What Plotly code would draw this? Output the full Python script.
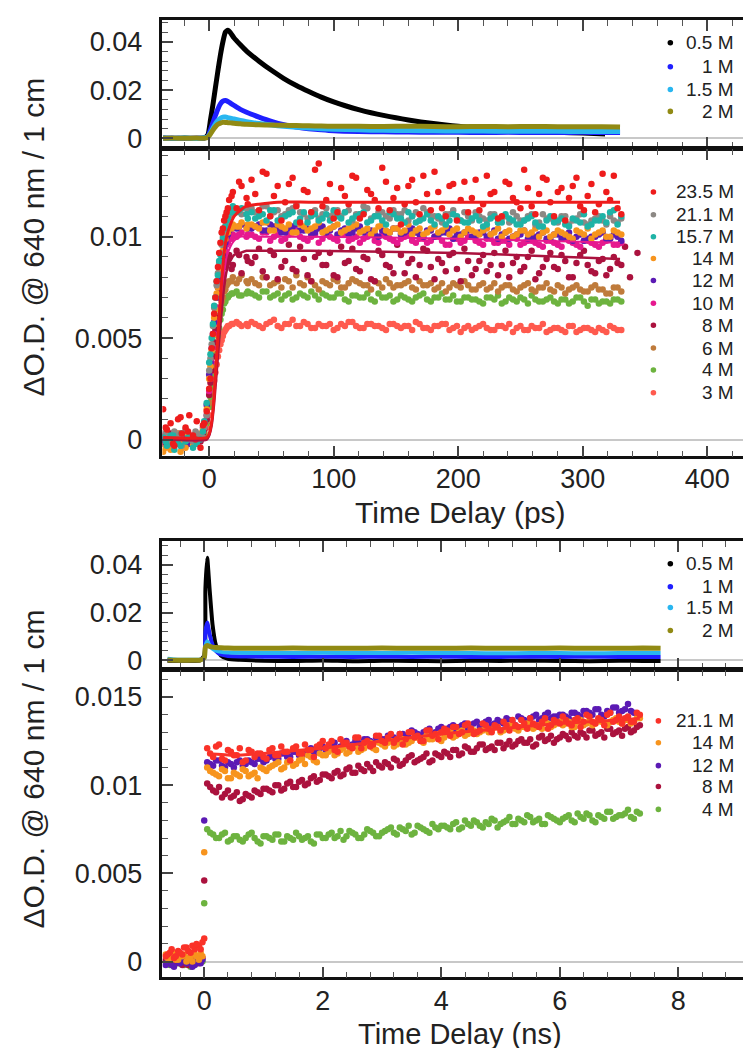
import plotly.graph_objects as go

W, H = 751, 1048
SC = 1e-4  # all stored values are ΔO.D. x 10^4
FONT = "Liberation Sans, Arial, Helvetica, sans-serif"

# ------------------------------------------------------------------
# Panel A : picosecond traces, low concentrations
# ------------------------------------------------------------------
TA0 = [-37, -30, -20, -10, -4, -1, 1, 3, 5, 7, 9, 11, 13, 15, 17, 20, 25, 30,
       40, 50, 60, 70, 80, 90, 100, 110, 120, 130, 140, 150, 160, 170, 180, 190, 200,
       220, 240, 260, 280, 300, 318]
A_05 = [1, -1, 1, 0, 2, 15, 75, 140, 210, 280, 345, 400, 440, 448, 438, 416, 388, 362,
        320, 282, 248, 219, 194, 171, 151, 134, 119, 106, 95, 85, 76, 68, 61, 55, 50,
        41, 34, 29, 25, 22, 18]
TA = [-37, -30, -20, -10, -4, -1, 1, 3, 5, 7, 9, 11, 13, 15, 17, 20, 25, 30,
      40, 50, 60, 70, 80, 90, 100, 120, 140, 160, 180, 200, 220, 240, 260, 280, 300, 315, 330]
A_1 = [0, 1, -1, 0, 1, 8, 35, 65, 95, 122, 143, 154, 157, 153, 146, 136, 120, 108,
       88, 70, 56, 47, 40, 35, 31, 28, 27, 26, 25, 25, 24, 25, 24, 24, 25, 24, 24]
A_15 = [1, 0, 1, -1, 2, 6, 22, 42, 60, 74, 83, 88, 88, 86, 83, 80, 74, 69,
        61, 55, 50, 46, 43, 40, 38, 35, 33, 32, 31, 30, 30, 29, 29, 29, 28, 28, 28]
A_2 = [0, 1, 0, 1, 0, 5, 18, 34, 48, 58, 63, 66, 66, 65, 64, 62, 60, 58,
       56, 55, 54, 53, 52, 51, 50, 50, 49, 50, 49, 48, 49, 48, 49, 48, 48, 48, 47]

# ------------------------------------------------------------------
# Panel B : picosecond traces, high concentrations (two interleaved samplings)
# ------------------------------------------------------------------
TB = [-37, -34, -31, -28, -25, -22, -19, -16, -13, -10, -7, -4, -2,
      0, 2, 4, 6, 8, 10, 12, 14, 16, 19, 22, 26, 30,
      34, 40, 46, 52, 58, 64, 70, 76, 82, 88,
      94, 100, 106, 112, 118, 124, 130, 136, 142, 148,
      154, 160, 166, 172, 178, 184, 190, 196, 202, 208,
      214, 220, 226, 232, 238, 244, 250, 256, 262, 268,
      274, 280, 286, 292, 298, 304, 310, 316, 322, 328]
TB2 = [-35, -29, -23, -17, -11, -5,
       1, 3, 5, 7, 9, 11, 13, 15, 18, 24, 31,
       37, 43, 49, 55, 61, 67, 73, 79, 85, 91,
       97, 103, 109, 115, 121, 127, 133, 139, 145, 151,
       157, 163, 169, 175, 181, 187, 193, 199, 205, 211,
       217, 223, 229, 235, 241, 247, 253, 259, 265, 271,
       277, 283, 289, 295, 301, 307, 313, 319, 325, 331]

B_235 = [15, 5, 8, -3, 10, 3, 6, 12, 2, 9, -4, 8, 14,
         25, 45, 62, 78, 92, 102, 108, 112, 118, 122, 114, 125, 119,
         128, 113, 131, 120, 108, 126, 115, 123, 112, 136,
         118, 109, 124, 116, 129, 111, 121, 114, 127, 119,
         106, 125, 117, 130, 113, 122, 110, 126, 118, 112,
         128, 116, 121, 109, 127, 119, 114, 124, 111, 129,
         117, 122, 108, 125, 115, 120, 112, 131, 118, 114]
B2_235 = [6, -2, 11, 4, 0, 7,
          30, 52, 70, 85, 97, 104, 110, 114, 120, 127, 116,
          121, 132, 110, 125, 117, 129, 107, 122, 133, 115,
          126, 112, 120, 130, 109, 123, 118, 134, 113, 124,
          116, 128, 111, 121, 132, 114, 125, 108, 127, 119,
          113, 130, 122, 110, 126, 117, 133, 115, 121, 128,
          110, 124, 119, 129, 113, 126, 116, 122, 130, 111]
B_211 = [3, 1, -2, 4, 2, -3, 5, 1, -1, 3, 2, 6, 12,
         34, 47, 65, 76, 87, 96, 103, 107, 110, 112, 113, 111, 114,
         114, 111, 115, 112, 110, 113, 116, 111, 112, 109,
         114, 112, 110, 113, 111, 115, 109, 112, 110, 113,
         111, 108, 112, 114, 110, 109, 111, 113, 108, 110,
         112, 109, 111, 107, 110, 112, 108, 110, 106, 111,
         109, 107, 110, 108, 111, 106, 109, 108, 110, 107]
B2_211 = [2, -1, 3, 0, 4, 1,
          40, 56, 70, 82, 92, 100, 105, 109, 111, 113, 112,
          112, 115, 110, 113, 111, 114, 112, 109, 113, 111,
          110, 113, 112, 108, 111, 114, 110, 112, 109, 111,
          113, 110, 108, 112, 110, 107, 111, 109, 112, 108,
          110, 108, 111, 109, 107, 110, 108, 111, 107, 109,
          108, 110, 106, 109, 107, 108, 110, 106, 108, 109]
B_157 = [1, -3, 2, -5, -2, 3, -1, 1, -4, -2, 0, 9, 18,
         38, 50, 66, 78, 88, 97, 104, 108, 112, 115, 112, 114, 111,
         112, 110, 108, 113, 109, 111, 107, 112, 110, 108,
         111, 113, 109, 107, 110, 112, 108, 110, 106, 111,
         109, 112, 107, 109, 108, 110, 106, 111, 108, 107,
         110, 105, 109, 107, 111, 108, 106, 109, 107, 105,
         110, 108, 106, 109, 107, 105, 108, 110, 112, 106]
B2_157 = [-1, 2, -3, 1, 0, 4,
          42, 57, 70, 81, 91, 99, 105, 109, 112, 113, 109,
          109, 111, 113, 108, 110, 112, 109, 107, 111, 109,
          108, 110, 112, 109, 111, 107, 110, 108, 112, 109,
          107, 110, 108, 111, 106, 109, 108, 110, 107, 109,
          108, 106, 110, 107, 109, 106, 108, 110, 105, 108,
          107, 109, 105, 108, 111, 106, 108, 107, 113, 110]
B_14 = [-6, 2, -5, 1, 3, -1, -4, 2, -3, 1, 3, 7, 15,
        30, 44, 60, 72, 83, 91, 98, 102, 104, 106, 105, 107, 104,
        106, 104, 107, 103, 105, 106, 102, 105, 104, 107,
        103, 105, 102, 104, 106, 103, 101, 105, 103, 104,
        102, 106, 103, 101, 104, 102, 105, 103, 100, 104,
        102, 103, 101, 104, 102, 100, 103, 101, 104, 102,
        100, 103, 101, 99, 102, 104, 101, 103, 100, 102]
B2_14 = [-4, 1, -6, 2, -2, 5,
         36, 51, 64, 75, 85, 93, 99, 102, 104, 105, 106,
         105, 107, 103, 106, 104, 102, 106, 103, 105, 102,
         104, 106, 103, 105, 102, 104, 103, 106, 102, 104,
         103, 101, 104, 102, 105, 103, 101, 104, 102, 103,
         101, 104, 102, 100, 103, 101, 103, 102, 100, 103,
         101, 102, 100, 103, 101, 99, 102, 100, 103, 101]
B_12 = [0, -2, 1, 2, -1, -4, 3, -2, 1, 0, 2, 8, 17,
        32, 45, 58, 70, 80, 88, 95, 100, 103, 105, 104, 106, 105,
        104, 106, 103, 105, 102, 104, 106, 103, 101, 104,
        102, 105, 103, 101, 104, 102, 103, 100, 102, 104,
        101, 103, 102, 100, 103, 101, 102, 99, 101, 103,
        100, 102, 101, 99, 102, 100, 101, 99, 100, 102,
        99, 101, 100, 98, 101, 99, 100, 102, 99, 100]
B2_12 = [1, -3, 0, 2, -1, 6,
         38, 52, 64, 75, 84, 91, 97, 101, 104, 105, 104,
         105, 103, 106, 104, 102, 105, 103, 104, 102, 105,
         103, 101, 104, 102, 105, 103, 101, 103, 102, 104,
         102, 104, 101, 103, 100, 102, 104, 101, 102, 100,
         102, 100, 103, 101, 99, 101, 103, 100, 101, 99,
         101, 99, 102, 100, 98, 100, 101, 99, 101, 98]
B_10 = [2, 0, -1, 1, 3, -2, 1, 0, 2, -1, 1, 6, 12,
        24, 38, 52, 65, 76, 85, 92, 96, 99, 101, 100, 102, 100,
        101, 99, 102, 100, 98, 101, 103, 99, 100, 97,
        101, 99, 102, 98, 100, 99, 101, 97, 100, 98,
        99, 101, 97, 99, 98, 100, 96, 99, 97, 100,
        98, 96, 99, 97, 98, 100, 96, 98, 97, 95,
        98, 96, 99, 97, 95, 98, 96, 97, 99, 96]
B2_10 = [0, 2, -1, 1, -2, 4,
         30, 45, 58, 70, 80, 88, 93, 97, 99, 101, 101,
         100, 102, 98, 101, 99, 102, 100, 98, 101, 99,
         100, 98, 101, 99, 97, 100, 98, 101, 99, 97,
         100, 98, 99, 97, 100, 98, 96, 99, 98, 100,
         97, 99, 97, 98, 96, 99, 97, 98, 96, 98,
         97, 95, 98, 96, 98, 97, 95, 98, 96, 97]
B_8 = [-2, 1, 3, -1, 0, 2, -3, 1, 0, 2, -1, 5, 10,
       22, 34, 48, 60, 70, 78, 85, 88, 91, 86, 93, 82, 90,
       87, 94, 80, 91, 85, 96, 83, 89, 78, 92,
       86, 81, 95, 88, 84, 90, 79, 93, 86, 82,
       91, 87, 80, 94, 85, 89, 83, 92, 78, 88,
       84, 91, 86, 81, 93, 87, 83, 90, 79, 85,
       92, 84, 88, 80, 91, 86, 82, 89, 84, 87]
B2_8 = [2, -1, 1, 3, -2, 3,
        28, 41, 54, 65, 74, 81, 86, 89, 84, 91, 88,
        90, 83, 93, 79, 88, 84, 95, 81, 90, 86,
        92, 80, 87, 94, 83, 89, 78, 91, 85, 96,
        82, 89, 86, 93, 79, 87, 91, 84, 94, 81,
        88, 83, 92, 86, 80, 90, 85, 93, 82, 89,
        85, 91, 80, 87, 93, 83, 88, 81, 90, 86]
T8_EXTRA = [334, 338, 344]
B_8_EXTRA = [95, 80, 92]
B_6 = [1, -1, 2, 0, -2, 1, 3, -1, 0, 2, 1, 4, 9,
       18, 29, 41, 52, 61, 68, 73, 76, 78, 80, 77, 81, 78,
       79, 76, 80, 77, 75, 78, 81, 76, 78, 74,
       77, 79, 75, 77, 78, 76, 74, 77, 79, 75,
       76, 78, 74, 76, 77, 75, 73, 77, 75, 76,
       74, 77, 75, 73, 76, 74, 75, 77, 73, 75,
       74, 76, 72, 75, 74, 73, 76, 74, 72, 75]
B2_6 = [0, 2, -1, 1, 0, 3,
        23, 35, 47, 57, 64, 70, 74, 77, 78, 79, 77,
        77, 80, 76, 78, 79, 75, 77, 80, 76, 78,
        76, 78, 75, 79, 77, 76, 78, 75, 77, 76,
        77, 75, 78, 76, 74, 77, 75, 76, 78, 74,
        76, 74, 77, 75, 76, 73, 76, 74, 75, 77,
        73, 75, 74, 76, 73, 75, 74, 72, 75, 73]
B_4 = [0, 2, -1, 1, 0, -2, 1, 2, -1, 0, 1, 3, 8,
       16, 26, 37, 47, 55, 62, 67, 70, 71, 72, 73, 71, 72,
       72, 70, 73, 71, 69, 72, 70, 71, 73, 69,
       71, 70, 72, 68, 71, 70, 69, 72, 70, 68,
       71, 69, 70, 72, 68, 70, 69, 71, 68, 70,
       69, 67, 70, 71, 68, 69, 70, 67, 69, 68,
       70, 67, 69, 68, 70, 66, 69, 68, 67, 69]
B2_4 = [1, -1, 0, 2, -2, 2,
        21, 31, 42, 51, 59, 64, 68, 70, 72, 71, 73,
        71, 73, 70, 72, 71, 69, 72, 70, 71, 72,
        70, 72, 69, 71, 70, 72, 68, 70, 71, 69,
        70, 68, 71, 69, 70, 72, 69, 68, 70, 69,
        68, 70, 69, 67, 70, 68, 69, 71, 68, 69,
        68, 69, 67, 70, 68, 69, 67, 68, 69, 68]
B_3 = [-1, 1, 0, 2, -1, 1, 0, -2, 1, 0, 2, 3, 6,
       12, 20, 29, 37, 44, 49, 53, 55, 56, 57, 58, 56, 57,
       58, 56, 57, 59, 55, 57, 56, 58, 55, 57,
       56, 54, 57, 58, 56, 55, 57, 56, 54, 57,
       55, 56, 58, 55, 54, 56, 57, 55, 53, 56,
       55, 57, 54, 56, 55, 53, 56, 54, 55, 57,
       54, 55, 53, 56, 54, 55, 53, 54, 56, 54]
B2_3 = [0, 1, -1, 1, 0, 2,
        16, 25, 33, 41, 47, 51, 54, 56, 57, 57, 56,
        57, 55, 58, 56, 57, 59, 56, 57, 55, 56,
        57, 55, 56, 58, 55, 57, 56, 55, 57, 56,
        56, 54, 57, 55, 56, 57, 54, 56, 55, 54,
        56, 55, 54, 56, 57, 55, 54, 56, 55, 53,
        55, 54, 56, 53, 55, 54, 55, 53, 55, 54]

# fitted curves (panel B)
TFIT = [-37, -2, 0, 2, 4, 6, 8, 10, 12, 14, 17, 20, 25, 30, 40, 55, 80, 200, 330]
FIT_235 = [1, 1, 3, 9, 22, 42, 60, 78, 92, 100, 106, 110, 113, 115, 116, 117, 117, 117, 117]
FIT_10 = [0, 0, 2, 8, 20, 37, 54, 70, 82, 90, 95, 98, 100, 100, 100, 100, 100, 99, 97]
FIT_8 = [0, 0, 2, 7, 18, 33, 49, 63, 75, 83, 88, 91, 92, 93, 93, 93, 93, 92, 89]

# ------------------------------------------------------------------
# Panel C : nanosecond traces, low concentrations
# ------------------------------------------------------------------
TC = [-0.62, -0.5, -0.35, -0.2, -0.08, 0.0, 0.02, 0.05, 0.09, 0.14, 0.2, 0.28, 0.4, 0.6,
      1.0, 1.5, 2.0, 2.5, 3.0, 3.5, 4.0, 4.5, 5.0, 5.5, 6.0, 6.5, 7.0, 7.4, 7.7]
C_05 = [-2, -3, -2, -3, -2, 20, 300, 430, 300, 150, 60, 20, 6, 2,
        -2, -3, -1, -4, -2, -3, -4, -2, -3, -1, -3, -4, -2, -3, -3]
C_1 = [1, 0, 1, 0, 1, 10, 120, 158, 110, 65, 38, 24, 18, 16,
       15, 14, 15, 14, 15, 14, 15, 14, 14, 15, 14, 15, 14, 14, 14]
C_15 = [6, 3, 2, 2, 2, 8, 60, 80, 62, 48, 40, 35, 32, 31,
        30, 30, 31, 30, 30, 31, 30, 30, 29, 30, 30, 29, 30, 30, 30]
C_2 = [1, 0, 0, 0, 0, 10, 55, 62, 58, 55, 53, 52, 51, 50,
       50, 51, 50, 50, 51, 50, 50, 51, 50, 50, 51, 50, 50, 51, 50]

# ------------------------------------------------------------------
# Panel D : nanosecond traces, high concentrations (two interleaved samplings)
# ------------------------------------------------------------------
TD = [-0.65, -0.58, -0.51, -0.44, -0.37, -0.30, -0.23, -0.16, -0.09, -0.03,
      0.0,
      0.05, 0.15, 0.25, 0.35, 0.45, 0.55, 0.65, 0.75, 0.85, 0.95,
      1.05, 1.15, 1.25, 1.35, 1.45, 1.55, 1.65, 1.75, 1.85, 1.95,
      2.05, 2.15, 2.25, 2.35, 2.45, 2.55, 2.65, 2.75, 2.85, 2.95,
      3.05, 3.15, 3.25, 3.35, 3.45, 3.55, 3.65, 3.75, 3.85, 3.95,
      4.05, 4.15, 4.25, 4.35, 4.45, 4.55, 4.65, 4.75, 4.85, 4.95,
      5.05, 5.15, 5.25, 5.35, 5.45, 5.55, 5.65, 5.75, 5.85, 5.95,
      6.05, 6.15, 6.25, 6.35, 6.45, 6.55, 6.65, 6.75, 6.85, 6.95,
      7.05, 7.15, 7.25, 7.35]
TD2 = [-0.62, -0.55, -0.48, -0.41, -0.34, -0.27, -0.20, -0.13, -0.06,
       0.1, 0.2, 0.3, 0.4, 0.5, 0.6, 0.7, 0.8, 0.9, 1.0,
       1.1, 1.2, 1.3, 1.4, 1.5, 1.6, 1.7, 1.8, 1.9, 2.0,
       2.1, 2.2, 2.3, 2.4, 2.5, 2.6, 2.7, 2.8, 2.9, 3.0,
       3.1, 3.2, 3.3, 3.4, 3.5, 3.6, 3.7, 3.8, 3.9, 4.0,
       4.1, 4.2, 4.3, 4.4, 4.5, 4.6, 4.7, 4.8, 4.9, 5.0,
       5.1, 5.2, 5.3, 5.4, 5.5, 5.6, 5.7, 5.8, 5.9, 6.0,
       6.1, 6.2, 6.3, 6.4, 6.5, 6.6, 6.7, 6.8, 6.9, 7.0,
       7.1, 7.2, 7.3]
D_211 = [3, 5, 2, 6, 4, 8, 5, 7, 9, 11,
         13,
         121, 116, 123, 114, 119, 117, 113, 120, 116, 118,
         115, 121, 117, 119, 114, 122, 118, 120, 116, 123,
         121, 125, 119, 124, 122, 127, 121, 125, 123, 128,
         124, 129, 126, 123, 130, 127, 125, 131, 128, 126,
         132, 128, 133, 130, 135, 129, 131, 134, 130, 133,
         136, 131, 134, 137, 132, 135, 133, 138, 134, 136,
         139, 135, 137, 133, 140, 136, 138, 134, 141, 137,
         135, 139, 136, 140]
D2_211 = [4, 7, 3, 5, 8, 6, 9, 10, 7,
          118, 122, 115, 120, 117, 121, 114, 119, 118, 116,
          120, 117, 122, 119, 121, 118, 123, 120, 122, 125,
          123, 120, 126, 124, 121, 127, 124, 122, 128, 125,
          127, 124, 129, 126, 130, 128, 125, 131, 129, 130,
          131, 133, 129, 134, 132, 130, 135, 132, 134, 131,
          134, 137, 133, 135, 138, 134, 136, 132, 137, 135,
          137, 134, 138, 136, 139, 135, 137, 140, 136, 139,
          138, 136, 141]
D_14 = [4, 2, 5, 1, 3, 0, 2, 4, 1, 3,
        62,
        110, 107, 105, 108, 104, 106, 109, 105, 107, 110,
        108, 111, 113, 110, 114, 112, 115, 117, 114, 118,
        117, 120, 118, 121, 119, 122, 120, 123, 121, 124,
        122, 125, 123, 126, 124, 127, 125, 128, 126, 129,
        127, 130, 128, 131, 129, 131, 130, 132, 131, 133,
        131, 134, 132, 133, 135, 132, 134, 136, 133, 135,
        134, 136, 133, 137, 135, 134, 137, 135, 136, 138,
        135, 137, 136, 138]
D2_14 = [2, 5, 1, 3, 4, 2, 0, 3, 5,
         108, 106, 109, 104, 107, 105, 108, 106, 104, 109,
         110, 112, 109, 113, 111, 114, 112, 116, 113, 117,
         119, 117, 120, 118, 122, 119, 121, 124, 120, 123,
         124, 122, 126, 123, 125, 127, 124, 126, 128, 125,
         129, 127, 130, 128, 132, 129, 131, 130, 133, 130,
         132, 134, 131, 133, 135, 133, 132, 135, 134, 136,
         135, 133, 136, 134, 137, 135, 136, 134, 137, 136,
         137, 135, 138]
D_12 = [-2, 1, -3, 0, 2, -1, 1, -2, 0, 1,
        80,
        113, 111, 114, 110, 112, 113, 111, 114, 112, 115,
        114, 117, 115, 118, 116, 119, 117, 120, 118, 121,
        120, 123, 121, 124, 122, 125, 123, 126, 124, 127,
        126, 128, 125, 129, 127, 130, 128, 131, 129, 132,
        131, 133, 130, 134, 132, 135, 133, 136, 134, 137,
        135, 137, 134, 138, 136, 139, 137, 140, 138, 139,
        140, 138, 141, 139, 142, 140, 143, 139, 141, 144,
        142, 146, 141]
D2_12 = [0, -2, 2, -1, 1, 0, -3, 1, -1,
         112, 114, 111, 113, 110, 114, 112, 113, 115, 113,
         116, 115, 118, 116, 119, 117, 118, 121, 119, 122,
         121, 124, 122, 125, 123, 124, 126, 125, 127, 126,
         128, 127, 129, 128, 131, 129, 130, 132, 130, 133,
         132, 134, 133, 135, 134, 136, 134, 137, 135, 136,
         138, 136, 139, 137, 138, 140, 138, 141, 139, 140,
         139, 141, 140, 142, 141, 143, 140, 142, 144, 141,
         143, 142]
D_8 = [1, -1, 2, 0, -2, 1, 3, 0, -1, 2,
       46,
       101, 97, 99, 95, 93, 96, 92, 94, 97, 95,
       98, 96, 100, 98, 102, 99, 103, 101, 105, 103,
       106, 104, 108, 106, 110, 107, 109, 112, 108, 111,
       113, 110, 114, 112, 116, 113, 115, 118, 114, 117,
       119, 116, 120, 118, 121, 119, 123, 120, 122, 124,
       121, 125, 123, 126, 124, 122, 127, 125, 128, 126,
       129, 126, 128, 130, 127, 131, 129, 127, 132, 130,
       128, 133, 131, 134]
D2_8 = [0, 2, -1, 1, 0, -2, 2, 1, 0,
        99, 96, 93, 97, 94, 91, 95, 93, 96, 98,
        97, 100, 97, 101, 99, 102, 100, 104, 102, 106,
        105, 107, 105, 109, 107, 111, 108, 110, 113, 110,
        112, 115, 111, 114, 117, 114, 116, 113, 118, 116,
        118, 120, 117, 122, 119, 121, 123, 121, 120, 124,
        123, 122, 125, 124, 126, 123, 128, 126, 124, 127,
        128, 130, 127, 129, 131, 128, 130, 132, 129, 131,
        132, 130, 133]
D_4 = [0, -2, 1, -1, 2, 0, -3, 1, 2, 0,
       33,
       75, 72, 70, 73, 69, 71, 68, 72, 70, 67,
       71, 69, 72, 68, 70, 73, 69, 71, 67, 72,
       70, 73, 71, 69, 74, 72, 70, 75, 73, 71,
       74, 76, 72, 75, 77, 73, 76, 74, 78, 75,
       77, 75, 79, 76, 78, 80, 77, 79, 81, 76,
       79, 82, 78, 80, 83, 79, 81, 78, 82, 80,
       81, 83, 79, 82, 84, 80, 83, 81, 85, 82,
       83, 86, 81, 84]
D2_4 = [1, -1, 0, 2, -2, 1, 0, -1, 2,
        73, 70, 72, 68, 71, 69, 70, 73, 68, 71,
        70, 72, 68, 71, 69, 71, 70, 68, 72, 70,
        72, 70, 74, 71, 73, 70, 72, 74, 71, 73,
        75, 73, 76, 74, 72, 77, 75, 73, 76, 77,
        76, 78, 75, 80, 77, 79, 76, 78, 80, 78,
        80, 78, 81, 79, 82, 80, 78, 83, 81, 79,
        82, 80, 84, 81, 83, 79, 82, 85, 81, 83,
        84, 82, 85]
TFD = [0.05, 0.5, 1, 2, 3, 4, 5, 6, 7, 7.35]
FIT_D211 = [118, 117, 118, 121, 125, 129, 132, 135, 137, 138]

# ------------------------------------------------------------------
# colours / labels
# ------------------------------------------------------------------
C_BLACK, C_BLUE, C_CYAN, C_OLIVE = "#000000", "#1f1fff", "#29b6f0", "#918a14"
C_RED, C_GREY, C_TEAL, C_ORANGE = "#ee1c1c", "#8c8884", "#1fb3a6", "#f7941d"
C_PURPLE, C_MAGENTA, C_CRIMSON = "#5b1ab4", "#e6198f", "#ab123e"
C_BROWN, C_GREEN, C_SALMON, C_RED2 = "#bf7b3b", "#6db33f", "#ff5a4e", "#fa3228"

LEG_A = [("0.5 M", C_BLACK), ("1 M", C_BLUE), ("1.5 M", C_CYAN), ("2 M", C_OLIVE)]
LEG_B = [("23.5 M", C_RED), ("21.1 M", C_GREY), ("15.7 M", C_TEAL), ("14 M", C_ORANGE),
         ("12 M", C_PURPLE), ("10 M", C_MAGENTA), ("8 M", C_CRIMSON), ("6 M", C_BROWN),
         ("4 M", C_GREEN), ("3 M", C_SALMON)]
LEG_D = [("21.1 M", C_RED2), ("14 M", C_ORANGE), ("12 M", C_PURPLE), ("8 M", C_CRIMSON),
         ("4 M", C_GREEN)]

fig = go.Figure()


def sc(vals):
    return [v * SC for v in vals]


def add_line(xs, ys, color, xa, ya, name, width=5):
    fig.add_trace(go.Scatter(x=xs, y=sc(ys), mode="lines", name=name,
                             line=dict(color=color, width=width, shape="spline", smoothing=0.5),
                             xaxis=xa, yaxis=ya, showlegend=False, hoverinfo="skip"))


def add_pts(parts, color, xa, ya, name, size=6.5):
    xs, ys = [], []
    for t, v in parts:
        xs += t[:len(v)]
        ys += v
    fig.add_trace(go.Scatter(x=xs, y=sc(ys), mode="markers", name=name,
                             marker=dict(color=color, size=size, line=dict(width=0)),
                             xaxis=xa, yaxis=ya, showlegend=False, hoverinfo="skip"))


# Panel A
add_line(TA0, A_05, C_BLACK, "x", "y", "0.5 M")
add_line(TA, A_1, C_BLUE, "x", "y", "1 M")
add_line(TA, A_15, C_CYAN, "x", "y", "1.5 M")
add_line(TA, A_2, C_OLIVE, "x", "y", "2 M")

# Panel B
add_pts([(TB, B_3), (TB2, B2_3)], C_SALMON, "x2", "y2", "3 M")
add_pts([(TB, B_4), (TB2, B2_4)], C_GREEN, "x2", "y2", "4 M")
add_pts([(TB, B_6), (TB2, B2_6)], C_BROWN, "x2", "y2", "6 M")
add_pts([(TB, B_8), (TB2, B2_8), (T8_EXTRA, B_8_EXTRA)], C_CRIMSON, "x2", "y2", "8 M")
add_pts([(TB, B_10), (TB2, B2_10)], C_MAGENTA, "x2", "y2", "10 M")
add_pts([(TB, B_12), (TB2, B2_12)], C_PURPLE, "x2", "y2", "12 M")
add_pts([(TB, B_14), (TB2, B2_14)], C_ORANGE, "x2", "y2", "14 M")
add_pts([(TB, B_211), (TB2, B2_211)], C_GREY, "x2", "y2", "21.1 M")
add_pts([(TB, B_157), (TB2, B2_157)], C_TEAL, "x2", "y2", "15.7 M")
add_pts([(TB, B_235), (TB2, B2_235)], C_RED, "x2", "y2", "23.5 M")
add_line(TFIT, FIT_10, C_MAGENTA, "x2", "y2", "10 M fit", width=2)
add_line(TFIT, FIT_8, C_CRIMSON, "x2", "y2", "8 M fit", width=2.5)
add_line(TFIT, FIT_235, C_RED, "x2", "y2", "23.5 M fit", width=3)

# Panel C
add_line(TC, C_05, C_BLACK, "x3", "y3", "0.5 M", width=4)
add_line(TC, C_1, C_BLUE, "x3", "y3", "1 M", width=4)
add_line(TC, C_15, C_CYAN, "x3", "y3", "1.5 M", width=4)
add_line(TC, C_2, C_OLIVE, "x3", "y3", "2 M", width=5)

# Panel D
add_pts([(TD, D_4), (TD2, D2_4)], C_GREEN, "x4", "y4", "4 M")
add_pts([(TD, D_8), (TD2, D2_8)], C_CRIMSON, "x4", "y4", "8 M")
add_pts([(TD, D_12), (TD2, D2_12)], C_PURPLE, "x4", "y4", "12 M")
add_pts([(TD, D_14), (TD2, D2_14)], C_ORANGE, "x4", "y4", "14 M")
add_pts([(TD, D_211), (TD2, D2_211)], C_RED2, "x4", "y4", "21.1 M")
add_line(TFD, FIT_D211, C_RED2, "x4", "y4", "21.1 M fit", width=3)


# ------------------------------------------------------------------
# axes
# ------------------------------------------------------------------
def px_x(p):
    return p / W


def px_y(p):
    return 1 - p / H


XDOM = [px_x(155), 1.0]
TICKFONT = dict(family=FONT, size=27, color="#222")


def base_axis(**kw):
    d = dict(showline=True, linecolor="#111", linewidth=2.5, mirror="ticks",
             ticks="inside", tickcolor="#444", tickwidth=1.5, ticklen=11,
             showgrid=False, zeroline=False, tickfont=TICKFONT)
    d.update(kw)
    return d


def minor(dt):
    return dict(ticks="inside", ticklen=6, tickcolor="#555", tickwidth=1.2,
                tick0=0, dtick=dt, showgrid=False)


def yzero():
    return dict(zeroline=True, zerolinecolor="#c8c8c8", zerolinewidth=1.5, ticklabelstandoff=12)


PS_RANGE = [-37.6, 439.2]
NS_RANGE = [-0.706, 9.31]

fig.update_layout(
    width=W, height=H, autosize=False,
    margin=dict(l=0, r=0, t=0, b=0),
    paper_bgcolor="white", plot_bgcolor="white",
    showlegend=False,
    xaxis=base_axis(domain=XDOM, anchor="y", range=PS_RANGE, tickvals=[0, 100, 200, 300, 400],
                    showticklabels=False, minor=minor(20)),
    yaxis=base_axis(domain=[px_y(141), px_y(12)], anchor="x", range=[-0.0041, 0.0491],
                    tickvals=[0, 0.02, 0.04], ticktext=["0", "0.02", "0.04"],
                    minor=minor(0.004), **yzero()),
    xaxis2=base_axis(domain=XDOM, anchor="y2", range=PS_RANGE, tickvals=[0, 100, 200, 300, 400],
                     ticktext=["0", "100", "200", "300", "400"], minor=minor(20),
                     ticklabelstandoff=-4),
    yaxis2=base_axis(domain=[px_y(451), px_y(142)], anchor="x2", range=[-0.00083, 0.01431],
                     tickvals=[0, 0.005, 0.01], ticktext=["0", "0.005", "0.01"],
                     minor=minor(0.001), **yzero()),
    xaxis3=base_axis(domain=XDOM, anchor="y3", range=NS_RANGE, tickvals=[0, 2, 4, 6, 8],
                     showticklabels=False, minor=minor(0.4)),
    yaxis3=base_axis(domain=[px_y(665), px_y(536)], anchor="x3", range=[-0.00375, 0.05],
                     tickvals=[0, 0.02, 0.04], ticktext=["0", "0.02", "0.04"],
                     minor=minor(0.004), **yzero()),
    xaxis4=base_axis(domain=XDOM, anchor="y4", range=NS_RANGE, tickvals=[0, 2, 4, 6, 8],
                     ticktext=["0", "2", "4", "6", "8"], minor=minor(0.4),
                     ticklabelstandoff=-3),
    yaxis4=base_axis(domain=[px_y(975), px_y(666)], anchor="x4", range=[-0.0009, 0.01652],
                     tickvals=[0, 0.005, 0.01, 0.015], ticktext=["0", "0.005", "0.01", "0.015"],
                     minor=minor(0.001), **yzero()),
)

# ------------------------------------------------------------------
# titles and legends (annotations)
# ------------------------------------------------------------------
ann = []
shapes = []
YTITLE = "\u0394O.D. @ 640 nm / 1 cm"
for yc in (230, 765):
    ann.append(dict(text=YTITLE, x=px_x(26), y=px_y(yc), xref="paper", yref="paper",
                    xanchor="center", yanchor="middle", textangle=-90, showarrow=False,
                    font=dict(family=FONT, size=30, color="#222")))
for txt, yc, fs in (("Time Delay (ps)", 507, 30), ("Time Delay (ns)", 1032, 29)):
    ann.append(dict(text=txt, x=px_x(454), y=px_y(yc), xref="paper", yref="paper",
                    xanchor="center", yanchor="middle", showarrow=False,
                    font=dict(family=FONT, size=fs, color="#222")))


def legend(entries, rows, dot_x, text_right=731):
    for (label, col), yc in zip(entries, rows):
        ann.append(dict(text=label, x=px_x(text_right), y=px_y(yc), xref="paper", yref="paper",
                        xanchor="right", yanchor="middle", showarrow=False,
                        font=dict(family=FONT, size=19, color="#222")))
        r = 2.8
        shapes.append(dict(type="circle", xref="paper", yref="paper",
                           x0=px_x(dot_x - r), x1=px_x(dot_x + r),
                           y0=px_y(yc + r), y1=px_y(yc - r),
                           fillcolor=col, line=dict(width=0)))


legend(LEG_A, [35, 59, 82, 104], 665)
legend(LEG_B, [185, 208, 230, 252, 274, 297, 319, 342, 364, 387], 648)
legend(LEG_A, [559, 582, 603, 626], 665)
legend(LEG_D, [717, 739, 762, 783, 806], 653)

fig.update_layout(annotations=ann, shapes=shapes)
fig.write_html("out.html")
